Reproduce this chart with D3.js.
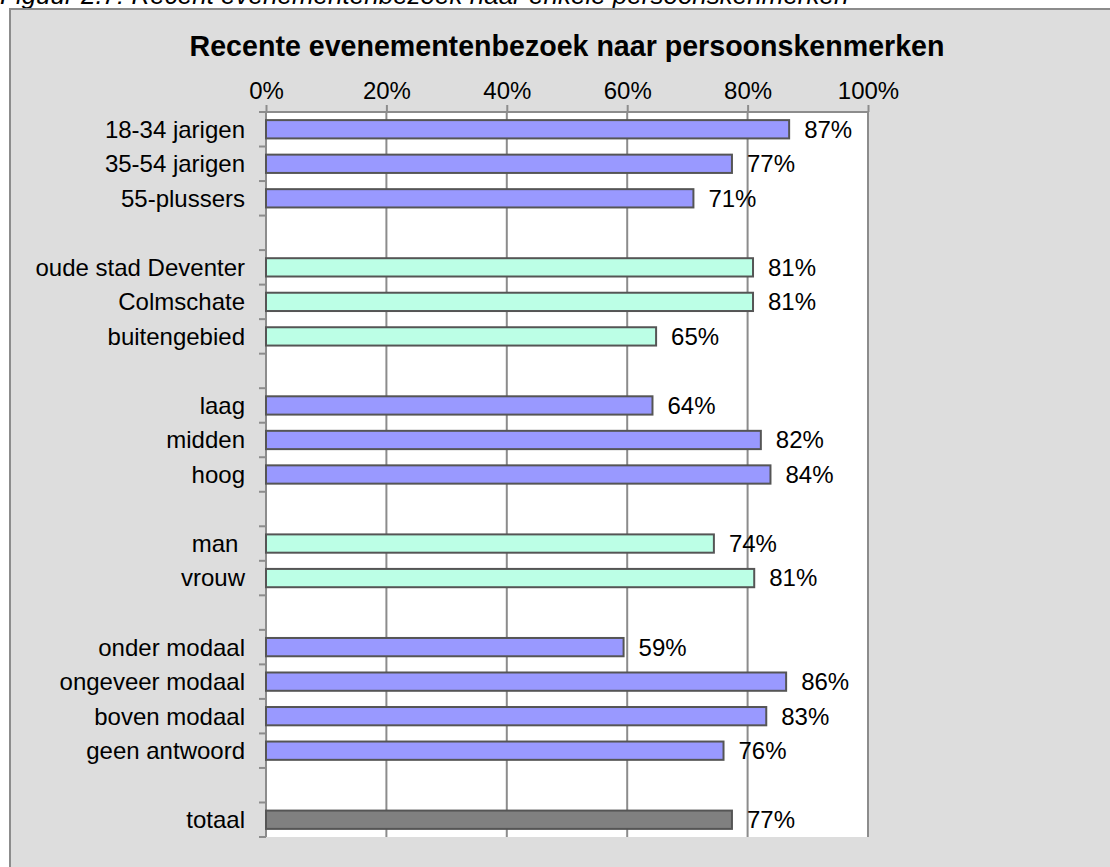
<!DOCTYPE html>
<html>
<head>
<meta charset="utf-8">
<script src="https://cdn.jsdelivr.net/npm/d3@7"></script>
<style>
  html, body { margin: 0; padding: 0; background: #ffffff; }
  svg { display: block; font-family: "Liberation Sans", Arial, sans-serif; }
  text { white-space: pre; }
</style>
</head>
<body>
<svg id="chart" width="1110" height="867"></svg>
<script>
// rows of the chart, empty strings are the spacer rows between groups
const categories = [
  "18-34 jarigen", "35-54 jarigen", "55-plussers", "",
  "oude stad Deventer", "Colmschate", "buitengebied", "",
  "laag", "midden", "hoog", "",
  "man ", "vrouw", "",
  "onder modaal", "ongeveer modaal", "boven modaal", "geen antwoord", "",
  "totaal"
];
const values = [
  86.9, 77.4, 71.0, null,
  80.9, 80.9, 64.8, null,
  64.2, 82.2, 83.8, null,
  74.4, 81.1, null,
  59.4, 86.4, 83.1, 76.0, null,
  77.4
];
// colour group per row
const groups = [
  "a", "a", "a", null,
  "b", "b", "b", null,
  "a", "a", "a", null,
  "b", "b", null,
  "a", "a", "a", "a", null,
  "t"
];
const xTicks = [0, 20, 40, 60, 80, 100];

const title = "Recente evenementenbezoek naar persoonskenmerken";
const caption = "Figuur 2.7: Recent evenementenbezoek naar enkele persoonskenmerken";

const colors = { a: "#9999ff", b: "#bcffe6", t: "#808080" };

const svg = d3.select("#chart");

const plot = { left: 266, right: 868, top: 112, bottom: 837 };

// caption (cut off at the top of the page, as in the source)
svg.append("text")
  .attr("x", 0)
  .attr("y", 4)
  .attr("font-size", 26)
  .attr("font-style", "italic")
  .attr("fill", "#000")
  .text(caption);

// outer chart area
svg.append("rect")
  .attr("x", 10)
  .attr("y", 9)
  .attr("width", 1120)
  .attr("height", 880)
  .attr("fill", "#dddddd")
  .attr("stroke", "#8c8c8c")
  .attr("stroke-width", 2);

// plot area
svg.append("rect")
  .attr("x", plot.left)
  .attr("y", plot.top)
  .attr("width", plot.right - plot.left)
  .attr("height", plot.bottom - plot.top)
  .attr("fill", "#ffffff");

const x = d3.scaleLinear()
  .domain([0, 100])
  .range([plot.left, plot.right]);

const y = d3.scaleBand()
  .domain(d3.range(categories.length))
  .range([plot.top, plot.bottom])
  .paddingInner(0.47)
  .paddingOuter(0.235);

const yRows = d3.scaleBand()
  .domain(d3.range(categories.length))
  .range([plot.top, plot.bottom]);

// vertical gridlines
svg.append("g")
  .selectAll("line")
  .data(xTicks.filter(d => d > 0))
  .join("line")
  .attr("x1", d => x(d))
  .attr("x2", d => x(d))
  .attr("y1", plot.top)
  .attr("y2", plot.bottom)
  .attr("stroke", "#8c8c8c")
  .attr("stroke-width", 2);

// top axis
const xAxis = svg.append("g")
  .attr("transform", `translate(0,${plot.top})`)
  .call(d3.axisTop(x).tickValues(xTicks).tickSize(7).tickPadding(6).tickFormat(d => d + "%"));
xAxis.select(".domain")
  .attr("stroke", "#8c8c8c")
  .attr("stroke-width", 2)
  .attr("d", `M${plot.left - 7},0H${plot.right}`);
xAxis.selectAll(".tick line").attr("stroke", "#8c8c8c").attr("stroke-width", 2);
xAxis.selectAll(".tick text")
  .attr("font-size", 24)
  .attr("font-family", "Liberation Sans, Arial, sans-serif")
  .attr("fill", "#000");

// left axis with ticks at the row borders
const leftAxis = svg.append("g");
leftAxis.append("line")
  .attr("x1", plot.left)
  .attr("x2", plot.left)
  .attr("y1", plot.top)
  .attr("y2", plot.bottom)
  .attr("stroke", "#8c8c8c")
  .attr("stroke-width", 2);
leftAxis.selectAll("line.tick")
  .data(d3.range(categories.length + 1))
  .join("line")
  .attr("class", "tick")
  .attr("x1", plot.left - 7)
  .attr("x2", plot.left)
  .attr("y1", d => d < categories.length ? yRows(d) : plot.bottom)
  .attr("y2", d => d < categories.length ? yRows(d) : plot.bottom)
  .attr("stroke", "#8c8c8c")
  .attr("stroke-width", 2);

// category labels
svg.append("g")
  .selectAll("text")
  .data(categories.map((c, i) => ({ c, i })).filter(d => d.c !== ""))
  .join("text")
  .attr("x", 245)
  .attr("y", d => yRows(d.i) + yRows.bandwidth() / 2)
  .attr("dy", "0.35em")
  .attr("text-anchor", "end")
  .attr("font-size", 24)
  .attr("fill", "#000")
  .text(d => d.c);

const rows = values.map((v, i) => ({ v, i, g: groups[i] })).filter(d => d.v !== null);

// bars
svg.append("g")
  .selectAll("rect")
  .data(rows)
  .join("rect")
  .attr("x", x(0))
  .attr("y", d => y(d.i))
  .attr("width", d => x(d.v) - x(0))
  .attr("height", y.bandwidth())
  .attr("fill", d => colors[d.g])
  .attr("stroke", "#555555")
  .attr("stroke-width", 2);

// value labels
svg.append("g")
  .selectAll("text")
  .data(rows)
  .join("text")
  .attr("x", d => x(d.v) + 15)
  .attr("y", d => y(d.i) + y.bandwidth() / 2)
  .attr("dy", "0.35em")
  .attr("font-size", 24)
  .attr("fill", "#000")
  .text(d => Math.round(d.v) + "%");

// title
svg.append("text")
  .attr("x", (plot.left + plot.right) / 2)
  .attr("y", 56)
  .attr("text-anchor", "middle")
  .attr("font-size", 28.6)
  .attr("font-weight", "bold")
  .attr("fill", "#000")
  .text(title);
</script>
</body>
</html>
